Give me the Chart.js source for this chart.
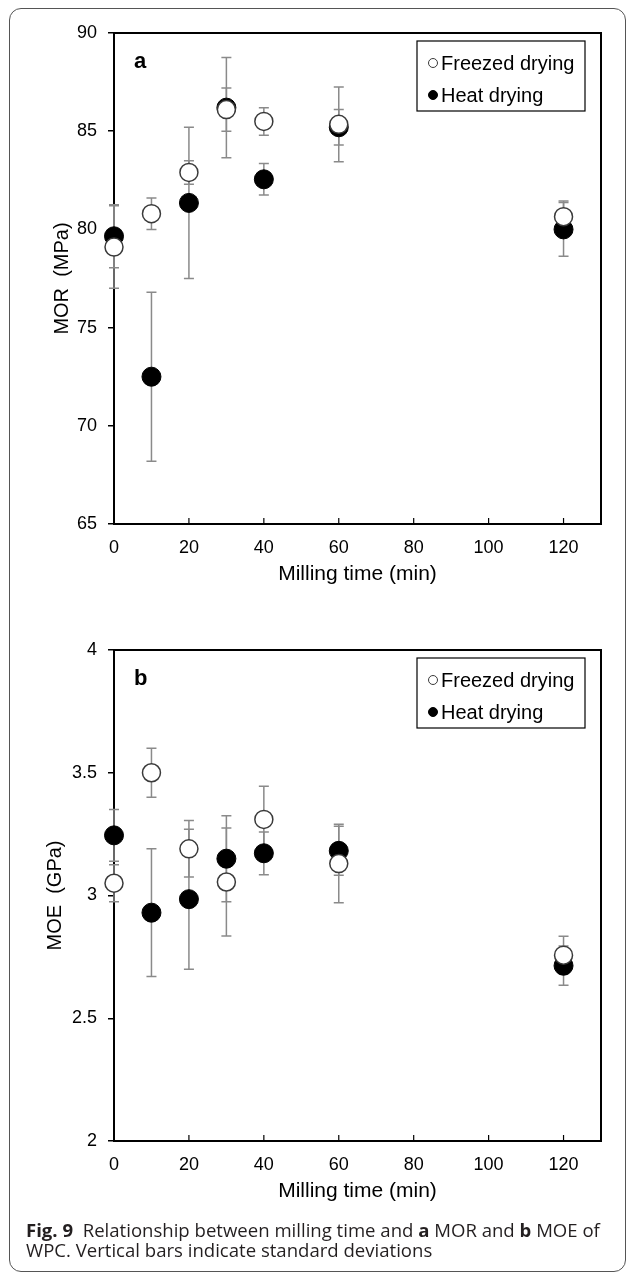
<!DOCTYPE html>
<html><head><meta charset="utf-8">
<script src="https://cdn.jsdelivr.net/npm/chart.js@4.4.1/dist/chart.umd.min.js"></script>
<style>
html,body{margin:0;padding:0;background:#fff;}
body{width:627px;height:1274px;position:relative;overflow:hidden;}
#frame{position:absolute;left:9px;top:8px;width:617px;height:1264px;border:1px solid #555;border-radius:12px;box-sizing:border-box;}
.wrap{position:absolute;left:0;width:627px;height:617px;}
#w1{top:0;} #w2{top:617px;}
#caption{position:absolute;left:26px;top:1220px;font-family:'Open Sans',sans-serif;font-size:18px;line-height:19.5px;color:#231f20;white-space:nowrap;}
#caption b{font-weight:700;}
</style></head><body>
<div id="frame"></div>
<div class="wrap" id="w1"><canvas id="c1" width="627" height="617"></canvas></div>
<div class="wrap" id="w2"><canvas id="c2" width="627" height="617"></canvas></div>
<div id="caption"><span id="cap1"><b>Fig. 9</b>&nbsp;&nbsp;Relationship between milling time and <b>a</b> MOR and <b>b</b> MOE of</span><br><span>WPC. Vertical bars indicate standard deviations</span></div>
<script>
// ---- data ----
const times = [0, 10, 20, 30, 40, 60, 120];
const xTicks = [0, 20, 40, 60, 80, 100, 120];
const seriesNames = ['Freezed drying', 'Heat drying'];

const morFreeze   = [79.1, 80.8, 82.9, 86.1, 85.5, 85.35, 80.65];
const morFreezeSD = [2.1, 0.8, 0.6, 1.1, 0.7, 1.9, 0.8];
const morHeat     = [79.65, 72.5, 81.35, 86.2, 82.55, 85.2, 80.0];
const morHeatSD   = [1.6, 4.3, 3.85, 2.55, 0.8, 0.9, 1.37];
const morTicks    = [65, 70, 75, 80, 85, 90];

const moeFreeze   = [3.05, 3.5, 3.19, 3.055, 3.31, 3.13, 2.757];
const moeFreezeSD = [0.075, 0.1, 0.115, 0.22, 0.135, 0.16, 0.077];
const moeHeat     = [3.245, 2.93, 2.985, 3.15, 3.172, 3.182, 2.714];
const moeHeatSD   = [0.105, 0.26, 0.285, 0.175, 0.087, 0.1, 0.08];
const moeTicks    = [2, 2.5, 3, 3.5, 4];

// fit caption first line to the figure width
(function () {
  const cap = document.getElementById('caption');
  const w = document.getElementById('cap1').getBoundingClientRect().width;
  const fs = 18 * 574 / w;
  cap.style.fontSize = fs.toFixed(2) + 'px';
})();

Chart.defaults.font.family = "'Liberation Sans', Arial, sans-serif";
Chart.defaults.color = '#000';

const decor = {
  id: 'decor',
  beforeDatasetsDraw(chart) {
    const {ctx, chartArea: a, scales: {x, y}} = chart;
    ctx.save();
    ctx.strokeStyle = '#000'; ctx.lineWidth = 2;
    ctx.strokeRect(a.left, a.top, a.right - a.left, a.bottom - a.top);
    ctx.lineWidth = 1.2;
    x.ticks.forEach(t => {
      const px = x.getPixelForValue(t.value);
      ctx.beginPath(); ctx.moveTo(px, a.bottom); ctx.lineTo(px, a.bottom - 6); ctx.stroke();
    });
    ctx.strokeStyle = '#8a8a8a'; ctx.lineWidth = 1.5;
    chart.data.datasets.forEach(ds => {
      ds.data.forEach((p, i) => {
        const sd = ds.sd[i];
        const px = x.getPixelForValue(p.x);
        const yt = y.getPixelForValue(p.y + sd), yb = y.getPixelForValue(p.y - sd);
        ctx.beginPath();
        ctx.moveTo(px, yt); ctx.lineTo(px, yb);
        ctx.moveTo(px - 5, yt); ctx.lineTo(px + 5, yt);
        ctx.moveTo(px - 5, yb); ctx.lineTo(px + 5, yb);
        ctx.stroke();
      });
    });
    ctx.restore();
  },
  afterDraw(chart) {
    const {ctx, chartArea: a} = chart;
    ctx.save();
    ctx.font = "bold 22px 'Liberation Sans', Arial, sans-serif";
    ctx.fillStyle = '#000'; ctx.textBaseline = 'middle'; ctx.textAlign = 'left';
    ctx.fillText(chart.options.panel, a.left + 20, a.top + 29);
    const bw = 168, bh = 70, bx = a.right - 16 - bw, by = a.top + 8;
    ctx.strokeStyle = '#000'; ctx.lineWidth = 1.2;
    ctx.strokeRect(bx, by, bw, bh);
    ctx.font = "20px 'Liberation Sans', Arial, sans-serif";
    chart.data.datasets.forEach((ds, i) => {
      const cy = by + 22 + i * 32;
      ctx.beginPath(); ctx.arc(bx + 16, cy, 4.5, 0, Math.PI * 2);
      ctx.fillStyle = ds.pointBackgroundColor; ctx.fill();
      ctx.strokeStyle = ds.pointBorderColor; ctx.lineWidth = 1; ctx.stroke();
      ctx.fillStyle = '#000';
      ctx.fillText(ds.label, bx + 24, cy + 1);
    });
    ctx.restore();
  }
};

function makeChart(id, panel, yTitle, yTitlePad, freeze, freezeSD, heat, heatSD, yTicks) {
  return new Chart(document.getElementById(id), {
    type: 'scatter',
    data: { datasets: [
      { label: seriesNames[0], data: times.map((t, i) => ({x: t, y: freeze[i]})), sd: freezeSD,
        pointRadius: 9, pointBackgroundColor: '#fff', pointBorderColor: '#3a3a3a', pointBorderWidth: 1.5, clip: false },
      { label: seriesNames[1], data: times.map((t, i) => ({x: t, y: heat[i]})), sd: heatSD,
        pointRadius: 9.5, pointBackgroundColor: '#000', pointBorderColor: '#000', pointBorderWidth: 1, clip: false }
    ]},
    options: {
      panel: panel,
      responsive: false, animation: false, events: [],
      layout: { padding: { top: 33, right: 26, left: 0, bottom: 0 } },
      plugins: { legend: { display: false }, tooltip: { enabled: false } },
      scales: {
        x: {
          type: 'linear', min: 0, max: 130,
          afterBuildTicks(s) { s.ticks = xTicks.map(v => ({value: v})); },
          afterFit(s) { s.height = 93; },
          grid: { drawOnChartArea: false, drawTicks: false },
          border: { display: false },
          ticks: { padding: 13, font: { size: 18 }, color: '#000', callback: v => String(v) },
          title: { display: true, text: 'Milling time (min)', font: { size: 21 }, color: '#000', padding: { top: 0, bottom: 30 } }
        },
        y: {
          min: yTicks[0], max: yTicks[yTicks.length - 1],
          afterBuildTicks(s) { s.ticks = yTicks.map(v => ({value: v})); },
          afterFit(s) { s.width = 114; },
          grid: { drawOnChartArea: false, drawTicks: true, tickLength: 6, color: '#000', lineWidth: 1.5 },
          border: { display: false },
          ticks: { padding: 11, font: { size: 18 }, color: '#000', callback: v => String(v) },
          title: { display: true, text: yTitle, font: { size: 20 }, color: '#000', padding: { top: yTitlePad, bottom: 0 } }
        }
      }
    },
    plugins: [decor]
  });
}

makeChart('c1', 'a', 'MOR  (MPa)', 50, morFreeze, morFreezeSD, morHeat, morHeatSD, morTicks);
makeChart('c2', 'b', 'MOE  (GPa)', 43, moeFreeze, moeFreezeSD, moeHeat, moeHeatSD, moeTicks);
</script>
</body></html>
